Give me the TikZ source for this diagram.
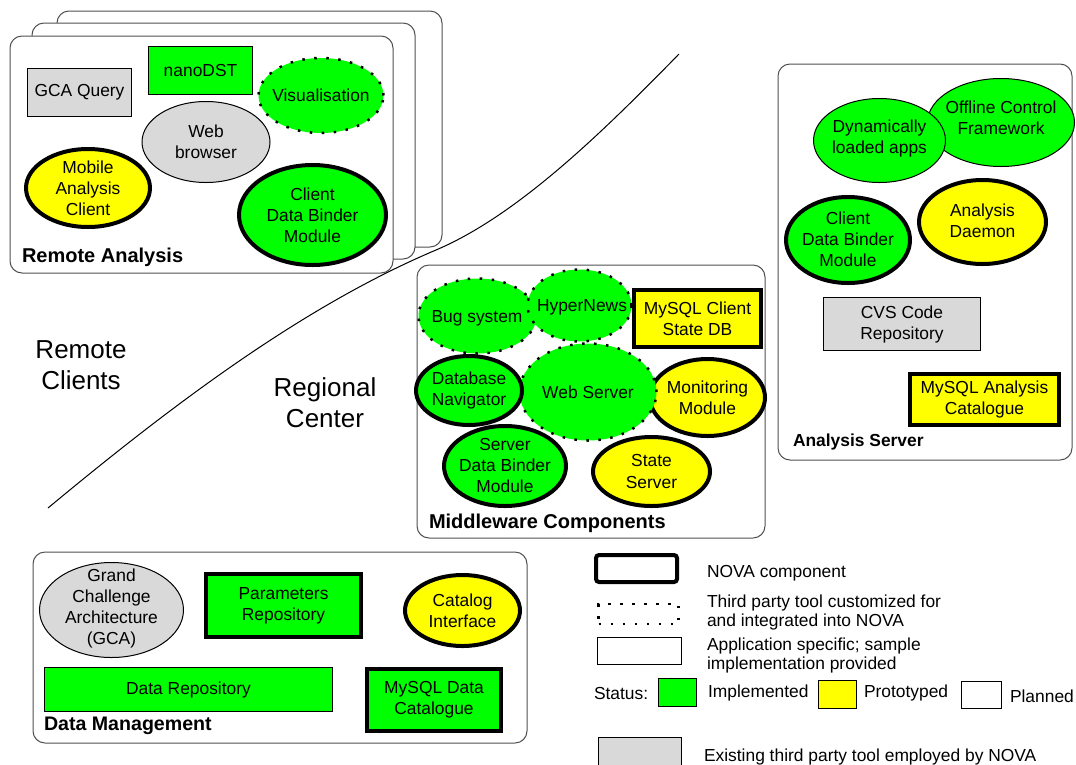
\documentclass[tikz,border=0pt]{standalone}
\usepackage{fontspec}
\setmainfont{Liberation Sans}
\usetikzlibrary{shapes.geometric}
\definecolor{ngreen}{HTML}{00FF00}
\definecolor{nyellow}{HTML}{FFFF00}
\definecolor{ngray}{HTML}{D9D9D9}
\definecolor{frameline}{HTML}{505050}
\tikzset{
  every node/.style={font=\fontsize{17.4}{21}\selectfont, align=center, inner sep=0pt, outer sep=0pt},
  ell/.style={ellipse},
  box/.style={rectangle},
  thinb/.style={draw=black, line width=1pt},
  thickb/.style={draw=black, line width=4pt},
  dotb/.style={draw=black, line width=2.5pt, dash pattern=on 2.5pt off 9.5pt},
  gr/.style={fill=ngreen},
  ye/.style={fill=nyellow},
  gy/.style={fill=ngray},
  frame/.style={draw=frameline, line width=1pt, fill=white, rounded corners=12pt},
  grouplabel/.style={anchor=west, font=\bfseries\fontsize{#1}{24}\selectfont},
  region/.style={font=\fontsize{26}{31}\selectfont},
  legtext/.style={anchor=west, align=left, font=\fontsize{17.4}{19}\selectfont},
  sz/.style n args={2}{minimum width=#1pt, minimum height=#2pt},
}
\begin{document}
\begin{tikzpicture}[x=1pt, y=-1pt]
\clip (0,0) rectangle (1076,764);
\fill[white] (0,0) rectangle (1076,764);

% ---------- Remote Analysis ----------
\draw[frame] (57,11) rectangle (442,247);
\draw[frame] (32,23) rectangle (415,259);
\draw[frame] (10,36) rectangle (393,273);

\node[box, thinb, gy, sz={104}{48}] (gcaq) at (79.5,92.5) {GCA Query};
\node[box, thinb, gr, sz={104}{48}] (nano) at (200.5,70.5) {nanoDST};
\node[ell, dotb, gr, sz={125}{75}] (vis) at (321,95.5) {};
\node at (vis) {Visualisation};
\node[ell, thinb, gy, sz={128}{81}] (web) at (206,142) {};
\node at (web) {Web\\browser};
\node[ell, thickb, ye, sz={124}{78}] (mac) at (88,188) {};
\node at (mac) {Mobile\\Analysis\\Client};
\node[ell, thickb, gr, sz={147}{100}] (cdb1) at (312.5,215) {};
\node at (cdb1) {Client\\Data Binder\\Module};
\node[grouplabel=20] (lra) at (22,257) {Remote Analysis};

% ---------- dividing curve ----------
\draw[line width=1pt] (48,508) .. controls (178,400) and (306,305) .. (436,250)
  .. controls (516,216) and (599,136) .. (679,54);

\node[region] (rcl) at (81,365.5) {Remote\\Clients};
\node[region] (rcen) at (325,403) {Regional\\Center};

% ---------- Middleware Components ----------
\draw[frame] (417,265) rectangle (765,538);
\node[ell, dotb, gr, sz={118}{75}] (bug) at (477.5,316) {};
\node at (477,318) {Bug system};
\node[ell, dotb, gr, sz={104}{72}] (hyp) at (579.5,305.5) {};
\node at (582,307) {HyperNews};
\node[box, thickb, ye, sz={127}{57}] (mcs) at (697.5,318.5) {MySQL Client\\State DB};
\node[ell, thickb, ye, sz={115}{77}] (mon) at (707.5,397.5) {};
\node at (mon) {Monitoring\\Module};
\node[ell, dotb, gr, sz={137}{97}] (wsv) at (588,392) {};
\node at (wsv) {Web Server};
\node[ell, thickb, gr, sz={106}{69}] (dbn) at (469,390.5) {};
\node at (dbn) {Database\\Navigator};
\node[ell, thickb, gr, sz={122}{80}] (sdb) at (505,466) {};
\node at (sdb) {Server\\Data Binder\\Module};
\node[ell, thickb, ye, sz={117}{69}] (sts) at (651.5,471.5) {};
\node at (sts) {State\\Server};
\node[grouplabel=20] (lmw) at (429,523) {Middleware Components};

% ---------- Analysis Server ----------
\draw[frame] (778,64) rectangle (1072,460);
\node[ell, thinb, gr, sz={147}{88}] (ocf) at (1001,122.5) {};
\node at (1001,118) {Offline Control\\Framework};
\node[ell, thinb, gr, sz={132}{84}] (dla) at (879.5,140.5) {};
\node at (879.5,138.5) {Dynamically\\loaded apps};
\node[ell, thickb, gr, sz={124}{86}] (cdb2) at (848,240) {};
\node at (848,239) {Client\\Data Binder\\Module};
\node[ell, thickb, ye, sz={127}{84}] (ad) at (982.5,222) {};
\node at (982.5,220.5) {Analysis\\Daemon};
\node[box, thinb, gy, sz={157}{53}] (cvs) at (902,324) {CVS Code\\Repository};
\node[box, thickb, ye, sz={149}{51}] (mac2) at (984.5,399.5) {MySQL Analysis\\Catalogue};
\node[grouplabel=17.4] (las) at (793,442) {Analysis Server};

% ---------- Data Management ----------
\draw[frame] (33,552) rectangle (527,743);
\node[ell, thinb, gy, sz={144}{95}] (gca) at (111.5,610) {};
\node at (111.5,608.5) {Grand\\Challenge\\Architecture\\(GCA)};
\node[box, thickb, gr, sz={155}{63}] (par) at (283.5,605.5) {Parameters\\Repository};
\node[ell, thickb, ye, sz={115}{71}] (cat) at (462.5,610.5) {};
\node at (cat) {Catalog\\Interface};
\node[box, thinb, gr, sz={288}{44}] (drep) at (188.5,689.5) {Data Repository};
\node[box, thickb, gr, sz={134}{62}] (mdc) at (434,700) {MySQL Data\\Catalogue};
\node[grouplabel=19.6] (ldm) at (44,726) {Data Management};

% ---------- Legend ----------
\node[box, thickb, rounded corners=3pt, sz={81}{27}] (lnova) at (636.5,568.5) {};
\node[legtext] (tnova) at (707,573) {NOVA component};
\node[box, draw=black, line width=2.5pt, dash pattern=on 2.5pt off 9.5pt, sz={80}{20}] (ldot) at (638.5,614) {};
\node[legtext] (tdot) at (707,612.5) {Third party tool customized for\\and integrated into NOVA};
\node[box, thinb, sz={84}{27}] (lapp) at (639.5,651) {};
\node[legtext] (tapp) at (707,655.5) {Application specific; sample\\implementation provided};
\node[legtext] (tstat) at (594,693) {Status:};
\node[box, thinb, gr, sz={38}{28}] (lgr) at (677.5,692.5) {};
\node[legtext] (timp) at (708,693) {Implemented};
\node[box, thinb, ye, sz={38}{28}] (lye) at (837.5,694.5) {};
\node[legtext] (tpro) at (864,693) {Prototyped};
\node[box, thinb, sz={40}{27}] (lwh) at (981.5,695) {};
\node[legtext] (tpla) at (1010,696) {Planned};
\node[box, thinb, gy, sz={83}{40}] (lgy) at (639.5,757) {};
\node[legtext] (texi) at (704,757) {Existing third party tool employed by NOVA};
\end{tikzpicture}
\end{document}
